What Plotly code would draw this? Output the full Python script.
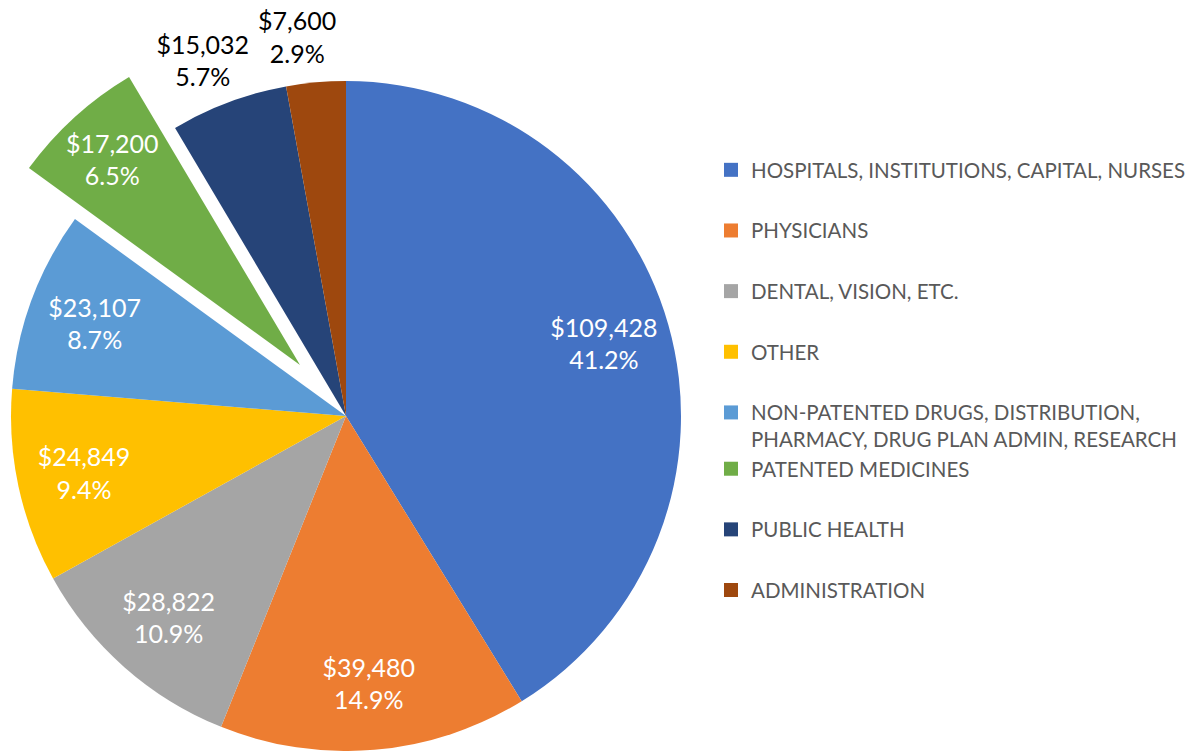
import plotly.graph_objects as go

categories = [
    "HOSPITALS, INSTITUTIONS, CAPITAL, NURSES",
    "PHYSICIANS",
    "DENTAL, VISION, ETC.",
    "OTHER",
    "NON-PATENTED DRUGS, DISTRIBUTION,<br>PHARMACY, DRUG PLAN ADMIN, RESEARCH",
    "PATENTED MEDICINES",
    "PUBLIC HEALTH",
    "ADMINISTRATION",
]
values = [109428, 39480, 28822, 24849, 23107, 17200, 15032, 7600]
colors = ["#4472C4", "#ED7D31", "#A5A5A5", "#FFC000", "#5B9BD5", "#70AD47", "#264478", "#9E480E"]
label_pos = ["inside", "inside", "inside", "inside", "inside", "inside", "outside", "outside"]
exploded = 5  # index of the pulled-out slice
legend_groups = ["g0", "g1", "g2", "g3", "g4", "g4", "g5", "g6"]

SHIFT = 40          # page shift (px) so the exploded slice fits in the plot area
W, H = 1193 + SHIFT, 751
R = 335
CX1, CY1 = 346 + SHIFT, 416     # main pie centre
CX2, CY2 = 300 + SHIFT, 365     # centre of exploded slice
CXL, CYL = CX1 + 36, CY1 - 15   # reference frame for the outside labels


def dom(cx, cy):
    return dict(x=[(cx - R) / W, (cx + R) / W],
                y=[(H - cy - R) / H, (H - cy + R) / H])


TR = "rgba(0,0,0,0)"
FONT = "Lato"
FS = 25
TXT = "$%{value:,}<br>%{percent:.1%}"
n = len(values)

fig = go.Figure()

# main pie (exploded slice left empty)
fig.add_trace(go.Pie(
    labels=categories, values=values, sort=False, direction="clockwise",
    marker=dict(colors=[TR if i == exploded else c for i, c in enumerate(colors)],
                line=dict(width=0)),
    textinfo="none", hoverinfo="skip", showlegend=False, domain=dom(CX1, CY1),
))

# exploded slice
fig.add_trace(go.Pie(
    labels=categories, values=values, sort=False, direction="clockwise",
    marker=dict(colors=[c if i == exploded else TR for i, c in enumerate(colors)],
                line=dict(width=0)),
    texttemplate=TXT,
    textposition=["inside" if i == exploded else "none" for i in range(n)],
    insidetextorientation="horizontal",
    insidetextfont=dict(family=FONT, size=FS, color="white"),
    hoverinfo="skip", showlegend=False, domain=dom(CX2, CY2),
))

# inside labels for the other slices
fig.add_trace(go.Pie(
    labels=categories, values=values, sort=False, direction="clockwise",
    hole=0.6,
    marker=dict(colors=[TR] * n, line=dict(width=0)),
    texttemplate=TXT,
    textposition=["inside" if (p == "inside" and i != exploded) else "none"
                  for i, p in enumerate(label_pos)],
    insidetextorientation="horizontal",
    insidetextfont=dict(family=FONT, size=FS, color="white"),
    hoverinfo="skip", showlegend=False, domain=dom(CX1, CY1),
))

# outside labels (one trace each so they keep their natural place)
for k in [i for i, p in enumerate(label_pos) if p == "outside"]:
    fig.add_trace(go.Pie(
        labels=categories, values=values, sort=False, direction="clockwise",
        marker=dict(colors=[TR] * n, line=dict(width=0)),
        texttemplate=TXT,
        textposition=["outside" if i == k else "none" for i in range(n)],
        outsidetextfont=dict(family=FONT, size=FS, color="black"),
        hoverinfo="skip", showlegend=False, domain=dom(CXL, CYL),
    ))

# legend entries
for name, col, grp in zip(categories, colors, legend_groups):
    fig.add_trace(go.Scatter(
        x=[None], y=[None], mode="markers", name=name, legendgroup=grp,
        marker=dict(symbol="square", size=14, color=col),
    ))

fig.update_layout(
    width=W, height=H, margin=dict(l=0, r=0, t=0, b=0, autoexpand=False),
    paper_bgcolor="white", plot_bgcolor="white",
    xaxis=dict(visible=False), yaxis=dict(visible=False),
    font=dict(family=FONT),
    legend=dict(
        x=(731 + SHIFT - 20) / W, xanchor="left",
        y=1 - 150 / H, yanchor="top",
        font=dict(family=FONT, size=20.5, color="#595959"),
        valign="top", tracegroupgap=31, bgcolor="rgba(0,0,0,0)",
    ),
)

post = ("document.body.style.margin='0';document.body.style.overflow='hidden';"
        "var d=document.getElementById('{plot_id}');d.style.marginLeft='-%dpx';" % SHIFT)
fig.write_html("out.html", config={"displayModeBar": False}, post_script=post)
